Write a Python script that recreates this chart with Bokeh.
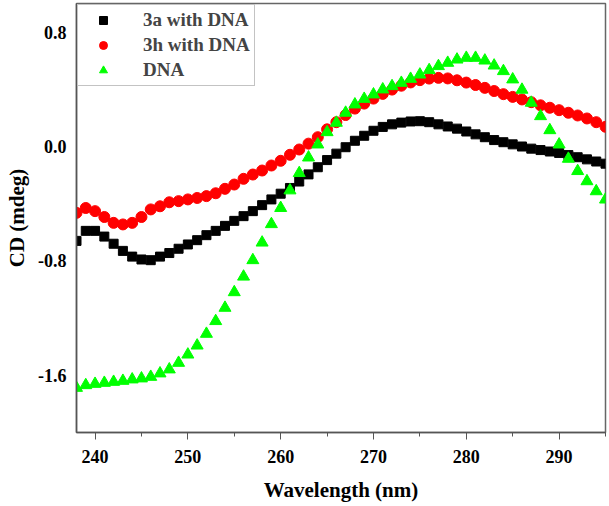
from bokeh.plotting import figure
from bokeh.models import FixedTicker, Range1d, Legend, LegendItem, PrintfTickFormatter
from bokeh.embed import file_html
from bokeh.resources import INLINE

wavelength = list(range(238, 296))

cd_3a = [-0.66, -0.59, -0.59, -0.63, -0.68, -0.73, -0.77, -0.79, -0.795, -0.77,
         -0.745, -0.715, -0.685, -0.655, -0.62, -0.59, -0.555, -0.52, -0.487, -0.452,
         -0.41, -0.37, -0.33, -0.29, -0.245, -0.195, -0.145, -0.095, -0.05, -0.005,
         0.04, 0.075, 0.11, 0.137, 0.155, 0.167, 0.175, 0.177, 0.17, 0.155,
         0.14, 0.125, 0.105, 0.085, 0.065, 0.045, 0.03, 0.015, 0.0, -0.015,
         -0.025, -0.035, -0.045, -0.06, -0.075, -0.09, -0.105, -0.12]

cd_3h = [-0.464, -0.43, -0.452, -0.493, -0.534, -0.545, -0.534, -0.493, -0.44, -0.418,
         -0.39, -0.382, -0.37, -0.36, -0.347, -0.327, -0.296, -0.266, -0.226, -0.196,
         -0.168, -0.133, -0.10, -0.058, -0.021, 0.02, 0.065, 0.12, 0.17, 0.22,
         0.265, 0.30, 0.335, 0.368, 0.398, 0.425, 0.448, 0.464, 0.475, 0.48,
         0.476, 0.463, 0.447, 0.43, 0.41, 0.388, 0.366, 0.347, 0.329, 0.31,
         0.288, 0.271, 0.254, 0.236, 0.217, 0.196, 0.17, 0.138]

cd_dna = [-1.688, -1.669, -1.660, -1.653, -1.646, -1.639, -1.629, -1.622, -1.611, -1.587,
          -1.559, -1.513, -1.455, -1.392, -1.310, -1.221, -1.128, -1.019, -0.91, -0.795,
          -0.672, -0.543, -0.43, -0.307, -0.186, -0.077, 0.014, 0.100, 0.166, 0.236,
          0.294, 0.333, 0.364, 0.399, 0.422, 0.445, 0.473, 0.503, 0.534, 0.562,
          0.585, 0.608, 0.620, 0.620, 0.601, 0.566, 0.527, 0.469, 0.397, 0.306,
          0.212, 0.114, 0.014, -0.086, -0.172, -0.243, -0.313, -0.371]

labels = ["3a with DNA", "3h with DNA", "DNA"]
x_ticks = [240, 250, 260, 270, 280, 290]
x_minor = [245, 255, 265, 275, 285, 295]
y_ticks = [-1.6, -0.8, 0.0, 0.8]

FONT = "Liberation Serif"

p = figure(width=608, height=504, output_backend="svg", toolbar_location=None,
           x_range=Range1d(238, 295), y_range=Range1d(-2.0, 1.0),
           min_border_left=76, min_border_right=3, min_border_top=3, min_border_bottom=71)

p.xgrid.visible = False
p.ygrid.visible = False
p.outline_line_color = "#666666"
p.outline_line_width = 1.5

r1 = p.scatter(wavelength, cd_3a, marker="square", size=9, color="black")
r2 = p.scatter(wavelength, cd_3h, marker="circle", size=11, color="#ff0000")
r3 = p.scatter(wavelength, cd_dna, marker="triangle", size=12, color="#00ff00")

p.xaxis.ticker = FixedTicker(ticks=x_ticks, minor_ticks=x_minor)
p.yaxis.ticker = FixedTicker(ticks=y_ticks)
p.yaxis.formatter = PrintfTickFormatter(format="%.1f")

for ax in (p.xaxis[0], p.yaxis[0]):
    ax.axis_line_color = "#555555"
    ax.axis_line_width = 1.5
    ax.major_label_text_font = FONT
    ax.major_label_text_font_style = "bold"
    ax.major_label_text_font_size = "18px"
    ax.major_label_text_color = "black"
    ax.axis_label_text_font = FONT
    ax.axis_label_text_font_style = "bold"
    ax.axis_label_text_font_size = "21px"
    ax.axis_label_text_color = "black"

p.xaxis.major_tick_line_color = "#555555"
p.xaxis.minor_tick_line_color = "#555555"
p.xaxis.major_tick_out = 7
p.xaxis.major_tick_in = 0
p.xaxis.minor_tick_out = 4
p.xaxis.minor_tick_in = 0
p.xaxis.major_label_standoff = 10
p.xaxis.axis_label = "Wavelength (nm)"
p.xaxis.axis_label_standoff = 12

p.yaxis.major_tick_line_color = None
p.yaxis.minor_tick_line_color = None
p.yaxis.major_tick_out = 0
p.yaxis.minor_tick_out = 0
p.yaxis.major_label_standoff = 10
p.yaxis.axis_label = "CD (mdeg)"
p.yaxis.axis_label_standoff = 6

legend = Legend(items=[LegendItem(label=labels[0], renderers=[r1]),
                       LegendItem(label=labels[1], renderers=[r2]),
                       LegendItem(label=labels[2], renderers=[r3])],
                location="top_left")
legend.label_text_font = FONT
legend.label_text_font_style = "bold"
legend.label_text_font_size = "19px"
legend.label_height = 20
legend.glyph_height = 20
legend.glyph_width = 42
legend.spacing = 3
legend.padding = 4
legend.margin = 1
legend.label_standoff = 19
legend.border_line_color = "#888888"
legend.border_line_width = 1.5
legend.background_fill_alpha = 1.0
p.add_layout(legend)

open("out.html", "w").write(file_html(p, INLINE))
